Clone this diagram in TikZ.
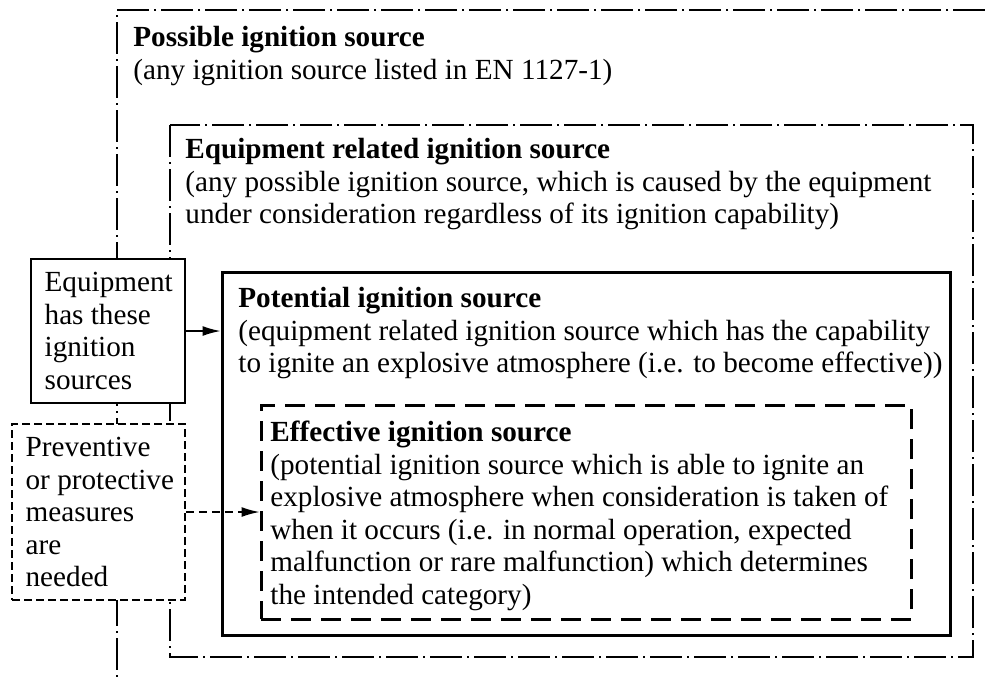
\documentclass[tikz,border=0pt]{standalone}
\usepackage{fontspec}
\setmainfont{Liberation Serif}
\usetikzlibrary{arrows.meta}

\begin{document}
\begin{tikzpicture}[x = 0.5pt, y = -0.5pt,
        font = \fontsize{14.6}{16.25}\selectfont,
        dashdot/.style = {line width = 0.7pt, dash pattern = on 16pt off 2.5pt on 1pt off 2.5pt},
        potbox/.style = {draw, line width = 1.5pt, fill = white, inner sep = 0pt},
        effbox/.style = {draw, line width = 1.5pt, dash pattern = on 10pt off 5pt, inner sep = 0pt},
        smallbox/.style = {draw, line width = 0.75pt, fill = white, inner sep = 0pt},
        blocktext/.style = {anchor = north west, align = left, inner sep = 0pt},
        tip/.style = {-{Latex[length = 9pt, width = 5pt]}, line width = 0.75pt}]
        \useasboundingbox (0, 0) rectangle (985, 677);

        \draw[dashdot] (985, 10) -- (117, 10) -- (117, 677);
        \draw[dashdot] (170, 125) rectangle (973, 657);

        \node[potbox, minimum width = 364pt, minimum height = 181.5pt] (pot) at (586, 453.5) {};
        \node[effbox, minimum width = 325pt, minimum height = 107pt] (eff) at (586, 512) {};
        \node[smallbox, minimum width = 77pt, minimum height = 72pt] (equip) at (108, 331) {};
        \node[smallbox, dash pattern = on 4pt off 2pt, minimum width = 86.5pt, minimum height = 88pt] (prev) at (98.5, 512) {};

        \node[blocktext] (posstext) at (133, 26) {\textbf{Possible ignition source}\\(any ignition source listed in EN 1127-1)};
        \node[blocktext] (reltext) at (185, 138) {\textbf{Equipment related ignition source}\\(any possible ignition source, which is caused by the equipment\\under consideration regardless of its ignition capability)};
        \node[blocktext] (pottext) at (238, 287) {\textbf{Potential ignition source}\\(equipment related ignition source which has the capability\\to ignite an explosive atmosphere (i.e. to become effective))};
        \node[blocktext] (efftext) at (270, 421) {\textbf{Effective ignition source}\\(potential ignition source which is able to ignite an\\explosive atmosphere when consideration is taken of\\when it occurs (i.e. in normal operation, expected\\malfunction or rare malfunction) which determines\\the intended category)};
        \node[blocktext, anchor = west] (equiptext) at ([xshift = 7pt]equip.west) {Equipment\\has these\\ignition\\sources};
        \node[blocktext, anchor = west] (prevtext) at ([xshift = 7pt]prev.west) {Preventive\\or protective\\measures\\are\\needed};

        \draw[tip] (equip.east) -- (equip.east -| pot.west);
        \draw[tip, dash pattern = on 4pt off 2.5pt] (prev.east) -- (prev.east -| eff.west);
\end{tikzpicture}
\end{document}
